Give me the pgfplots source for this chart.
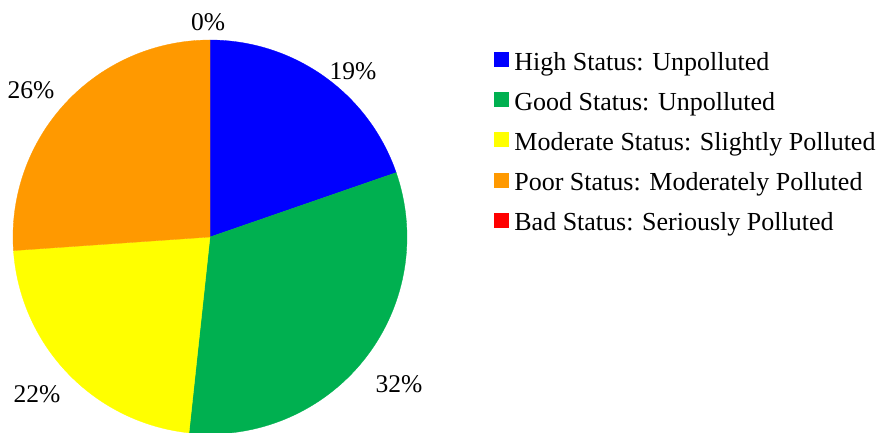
\documentclass[border=0pt]{standalone}
\usepackage{fontspec}
\setmainfont{Liberation Serif}
\usepackage{pgfplots}
\pgfplotsset{compat=1.18}
\definecolor{pieblue}{HTML}{0000FF}
\definecolor{piegreen}{HTML}{00B050}
\definecolor{pieyellow}{HTML}{FFFF00}
\definecolor{pieorange}{HTML}{FF9900}
\definecolor{piered}{HTML}{FF0000}
% shares (%): high 19.7, good 32.0, moderate 22.2, poor 26.1, bad 0
% slices run clockwise from 12 o'clock, 3.6 degrees per percent
\begin{document}
\begin{tikzpicture}[x=1pt,y=1pt]
\useasboundingbox (0,0) rectangle (886,433);
\begin{axis}[
    at={(13pt,-1pt)}, anchor=south west,
    scale only axis, width=394pt, height=394pt,
    xmin=-1, xmax=1, ymin=-1, ymax=1,
    hide axis, clip=false,
    legend cell align=left,
    legend style={at={(1.2208,0.9744)}, anchor=north west,
        draw=none, fill=none, inner sep=0pt, outer sep=0pt,
        row sep=14.2pt, column sep=6pt,
        font=\fontsize{26}{30}\selectfont,
        nodes={inner sep=0pt, text height=20pt, text depth=6pt}},
    legend image code/.code={\fill[#1] (0pt,-3pt) rectangle (14pt,11pt);},
    samples=120,
    ]
    \addplot[fill=pieblue, draw=pieblue, line width=0.3pt, domain=19.08:90]
        ({cos(x)},{sin(x)}) -- (0,0) -- cycle;
    \addlegendentry{High Status: Unpolluted}
    \addplot[fill=piegreen, draw=piegreen, line width=0.3pt, domain=-96.12:19.08]
        ({cos(x)},{sin(x)}) -- (0,0) -- cycle;
    \addlegendentry{Good Status: Unpolluted}
    \addplot[fill=pieyellow, draw=pieyellow, line width=0.3pt, domain=-176.04:-96.12]
        ({cos(x)},{sin(x)}) -- (0,0) -- cycle;
    \addlegendentry{Moderate Status: Slightly Polluted}
    \addplot[fill=pieorange, draw=pieorange, line width=0.3pt, domain=-270:-176.04]
        ({cos(x)},{sin(x)}) -- (0,0) -- cycle;
    \addlegendentry{Poor Status: Moderately Polluted}
    \addlegendimage{fill=piered, draw=piered}
    \addlegendentry{Bad Status: Seriously Polluted}

    \begin{scope}[every node/.style={font=\fontsize{25.5}{30}\selectfont}]
    \node at (axis cs:-0.01,1.09) {0\%};
    \node at (axis cs:0.726,0.843) {19\%};
    \node at (axis cs:0.959,-0.746) {32\%};
    \node at (axis cs:-0.878,-0.797) {22\%};
    \node at (axis cs:-0.909,0.744) {26\%};
    \end{scope}
\end{axis}
\end{tikzpicture}
\end{document}
